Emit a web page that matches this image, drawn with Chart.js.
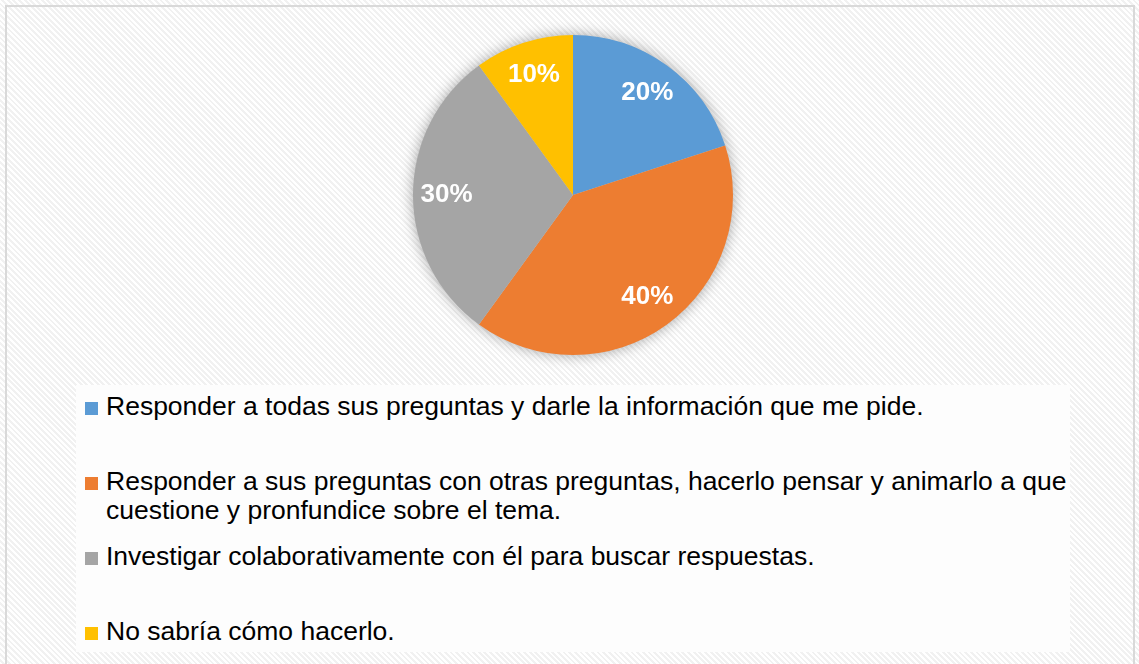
<!DOCTYPE html>
<html>
<head>
<meta charset="utf-8">
<script src="https://cdn.jsdelivr.net/npm/chart.js@4"></script>
<style>
  html, body { margin: 0; padding: 0; }
  body {
    width: 1139px; height: 664px; overflow: hidden; position: relative;
    background: repeating-linear-gradient(45deg, #ffffff 0px, #ffffff 2px, #f1f1f1 2px, #f1f1f1 4px);
    font-family: Arial, "Liberation Sans", sans-serif;
  }
  #frame {
    position: absolute; left: 5px; top: 5px; width: 1130px; height: 670px;
    border: 2px solid #d9d9d9; box-sizing: border-box;
  }
  #legendBox {
    position: absolute; left: 76px; top: 385px; width: 994px; height: 267px;
    background: #fdfdfd;
  }
  #chartWrap { position: absolute; left: 0; top: 0; width: 1139px; height: 664px; }
  .item { position: absolute; left: 9px; width: 985px; font-size: 26.5px; line-height: 29px; color: #000; }
  .item .box { position: absolute; left: 0; top: 10px; width: 13px; height: 13px; }
  .item .txt { margin-left: 21px; }
</style>
</head>
<body>
<div id="frame"></div>
<div id="legendBox"></div>
<div id="chartWrap"><canvas id="pieChart" width="1139" height="664"></canvas></div>
<script>
const categories = [
  'Responder a todas sus preguntas y darle la información que me pide.',
  'Responder a sus preguntas con otras preguntas, hacerlo pensar y animarlo a que cuestione y pronfundice sobre el tema.',
  'Investigar colaborativamente con él para buscar respuestas.',
  'No sabría cómo hacerlo.'
];
const percentages = [20, 40, 30, 10];
const sliceColors = ['#5B9BD5', '#ED7D31', '#A5A5A5', '#FFC000'];

document.addEventListener('DOMContentLoaded', function() {
  const ctx = document.getElementById('pieChart').getContext('2d');

  // soft shadow behind the pie
  const pieShadow = {
    id: 'pieShadow',
    beforeDatasetsDraw(chart) {
      const arc = chart.getDatasetMeta(0).data[0];
      if (!arc) return;
      const c = chart.ctx;
      c.save();
      c.shadowColor = 'rgba(0,0,0,0.35)';
      c.shadowBlur = 14;
      c.fillStyle = '#cccccc';
      c.beginPath();
      c.arc(arc.x, arc.y, arc.outerRadius, 0, Math.PI * 2);
      c.fill();
      c.restore();
    }
  };

  // white percent labels inside the slices
  const sliceLabels = {
    id: 'sliceLabels',
    afterDatasetsDraw(chart) {
      const c = chart.ctx;
      const meta = chart.getDatasetMeta(0);
      c.save();
      c.fillStyle = '#ffffff';
      c.font = 'bold 26px Arial, "Liberation Sans", sans-serif';
      c.textAlign = 'center';
      c.textBaseline = 'middle';
      meta.data.forEach(function(arc, i) {
        const p = arc.getProps(['x', 'y', 'startAngle', 'endAngle', 'outerRadius']);
        const mid = (p.startAngle + p.endAngle) / 2;
        const r = p.outerRadius * 0.79;
        c.fillText(chart.data.datasets[0].data[i] + '%', p.x + Math.cos(mid) * r, p.y + Math.sin(mid) * r);
      });
      c.restore();
    }
  };

  const pieChart = new Chart(ctx, {
    type: 'pie',
    data: {
      labels: categories,
      datasets: [{
        data: percentages,
        backgroundColor: sliceColors,
        borderWidth: 0,
        hoverOffset: 0
      }]
    },
    options: {
      responsive: false,
      animation: false,
      layout: { padding: { top: 35, bottom: 309, left: 413, right: 406 } },
      plugins: {
        legend: { display: false },
        tooltip: { enabled: false }
      }
    },
    plugins: [pieShadow, sliceLabels]
  });

  // legend built from the chart's labels and colours
  const box = document.getElementById('legendBox');
  pieChart.data.labels.forEach(function(label, i) {
    const item = document.createElement('div');
    item.className = 'item';
    item.style.top = (7 + i * 75) + 'px';
    const sw = document.createElement('span');
    sw.className = 'box';
    sw.style.background = pieChart.data.datasets[0].backgroundColor[i];
    const t = document.createElement('div');
    t.className = 'txt';
    t.textContent = label;
    item.appendChild(sw);
    item.appendChild(t);
    box.appendChild(item);
  });
});
</script>
</body>
</html>
